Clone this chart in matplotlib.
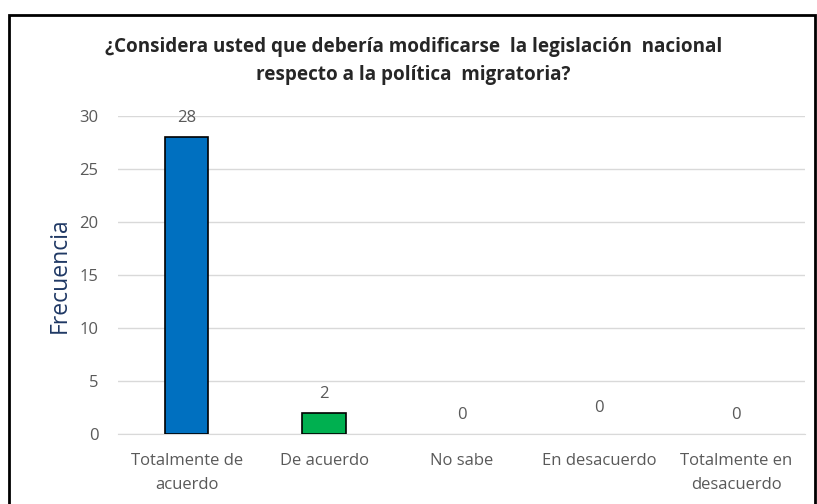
import matplotlib
matplotlib.use("Agg")
import matplotlib.pyplot as plt
from matplotlib.patches import Rectangle

categories = ["Totalmente de\nacuerdo", "De acuerdo", "No sabe", "En desacuerdo", "Totalmente en\ndesacuerdo"]
values = [28, 2, 0, 0, 0]
colors = ["#0070C0", "#00B050", "#0070C0", "#0070C0", "#0070C0"]
label_offsets = [19, 19, 19, 26, 19]  # px above bar top
yticks = [0, 5, 10, 15, 20, 25, 30]
title_lines = ["¿Considera usted que debería modificarse  la legislación  nacional",
               "respecto a la política  migratoria?"]

W, H = 817, 504
fig = plt.figure(figsize=(W / 100, H / 100), dpi=100)
plt.rcParams['font.family'] = ['Open Sans', 'DejaVu Sans']

# outer frame
fig.patches.append(Rectangle((9 / W, -0.05), (806) / W, 1.05 - 15 / H, transform=fig.transFigure,
                             fill=False, edgecolor="black", linewidth=2, clip_on=False))

left, right = 118 / W, 805 / W
bottom, top = 1 - 434 / H, 1 - 116 / H
ax = fig.add_axes([left, bottom, right - left, top - bottom])

x = list(range(len(categories)))
lws = [1.2 if v > 0 else 0 for v in values]
ax.bar(x, values, width=0.315, color=colors, edgecolor="black", linewidth=lws, zorder=3)
ax.set_xlim(-0.5, len(categories) - 0.5)
ax.set_ylim(0, 30)
ax.set_yticks(yticks)
ax.yaxis.grid(True, color="#D9D9D9", linewidth=1, zorder=0)
ax.set_axisbelow(True)
for s in ["left", "right", "top"]:
    ax.spines[s].set_visible(False)
ax.spines["bottom"].set_color("#D9D9D9")
ax.tick_params(axis="both", length=0, colors="#595959", labelsize=12)
ax.tick_params(axis="y", pad=14)
ax.tick_params(axis="x", pad=14)
ax.set_xticks(x)
ax.set_xticklabels(categories, linespacing=1.65)
ax.set_ylabel("Frecuencia", color="#1F3864", fontsize=16.5, va="center")
ax.yaxis.set_label_coords((60 - 118) / 687, 0.5)

for xi, v, off in zip(x, values, label_offsets):
    ax.annotate(str(v), (xi, v), xytext=(0, off * 0.72), textcoords="offset points",
                ha="center", va="center", color="#595959", fontsize=12)

cx = 0.5 * (105 + 722) / W
fig.text(cx, 1 - 47 / H, title_lines[0], ha="center", va="center",
         fontsize=13.6, fontweight="bold", color="#262626")
fig.text(cx, 1 - 75 / H, title_lines[1], ha="center", va="center",
         fontsize=13.6, fontweight="bold", color="#262626")

fig.savefig("out.png", dpi=100)
